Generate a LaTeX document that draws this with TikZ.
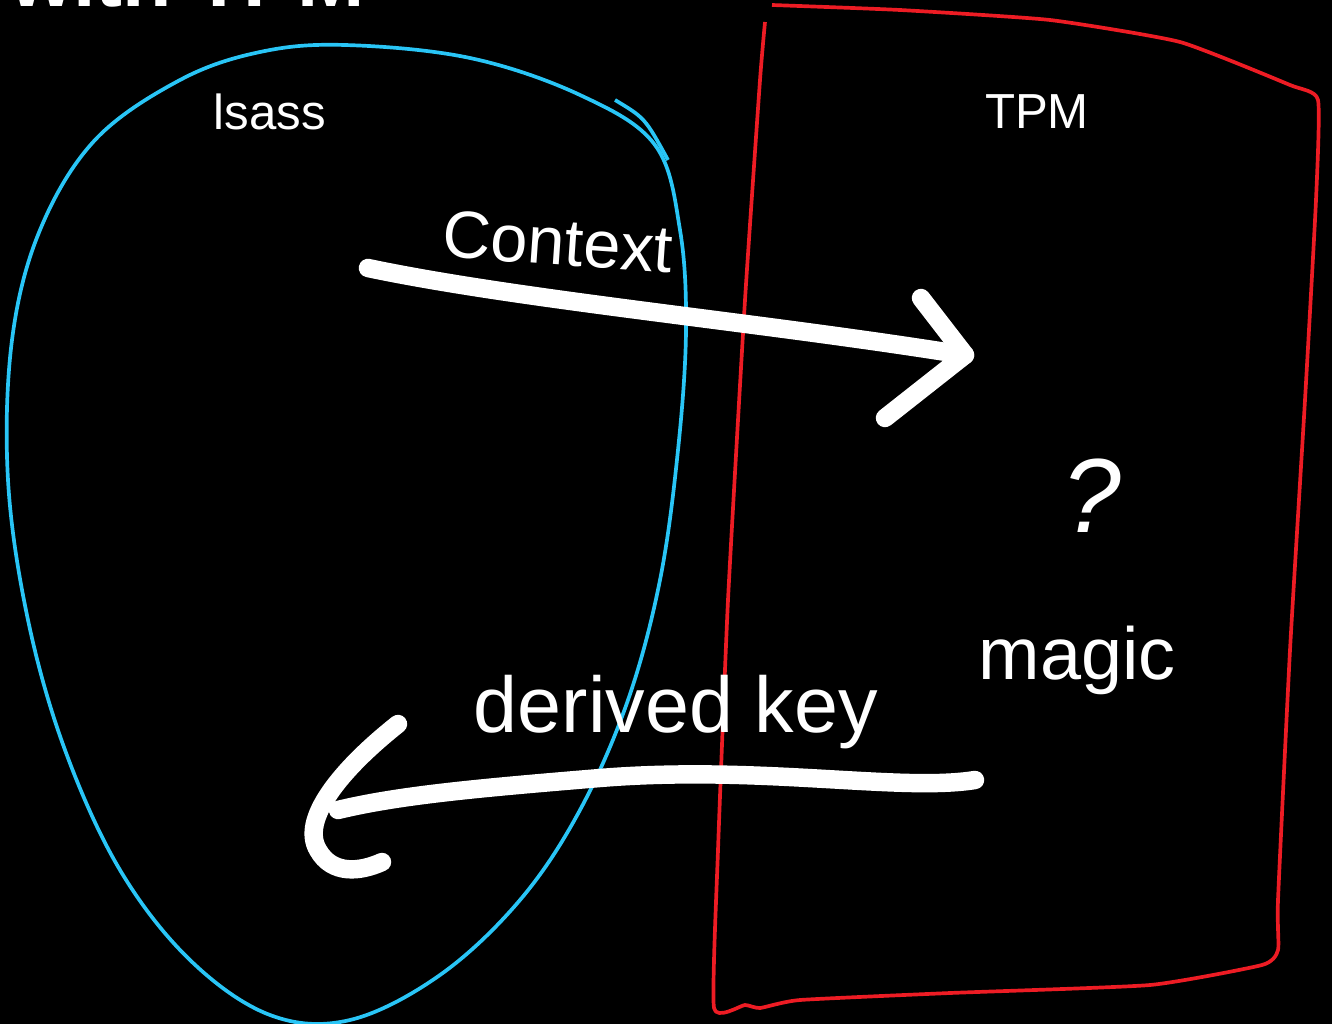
\documentclass[tikz,border=0pt]{standalone}
\usepackage{fontspec}
\setmainfont{Liberation Sans}
\usetikzlibrary{positioning}
\definecolor{lsassblue}{RGB}{41,197,246}
\definecolor{tpmred}{RGB}{237,28,36}

\begin{document}
\begin{tikzpicture}[
    x=0.02cm, y=-0.02cm,
    lsassline/.style={draw=lsassblue, line width=2.1pt, line join=round},
    tpmline/.style={draw=tpmred, line width=2.1pt, line join=round},
    bigarrow/.style={draw=white, line width=10.5pt, line cap=round, line join=round},
    label/.style={text=white, font=\fontsize{28}{32}\selectfont},
    hand/.style={text=white, inner sep=0pt}
]

% Background
\fill[black] (0,0) rectangle (1332,1024);
\useasboundingbox (0,0) rectangle (1332,1024);

% Title (cut off at the top)
\node[text=white, anchor=base west, inner sep=0pt, font=\fontsize{46}{50}\selectfont\bfseries] (title) at (10,7) {with TPM};

% lsass blob
\draw[lsassline] plot[smooth cycle, tension=0.6] coordinates {(345,45) (470,58) (580,95) (655,145) (680,230) (686,330) (678,450) (660,580) (628,700) (580,810) (520,900) (440,975) (350,1020) (270,1015) (190,960) (120,870) (65,750) (28,620) (8,480) (12,340) (40,230) (95,140) (180,80) (260,52)};
\draw[lsassline] (615,100) .. controls (645,118) .. (668,160);

% TPM box
\draw[tpmline] plot[smooth, tension=0.3] coordinates {(772,5) (900,10) (1050,20) (1180,42) (1290,85) (1318,100) (1316,200) (1305,400) (1290,650) (1278,900) (1278,950) (1262,965) (1150,985) (950,993) (800,1000) (760,1008) (745,1005) (714,1008) (718,850) (728,600) (745,300) (760,80) (765,22)};

% Labels
\node[label] (lsass) at (270,112) {lsass};
\node[label] (tpm) at (1037,112) {TPM};

% Context arrow
\coordinate (ctxstart) at (368,268);
\coordinate (ctxend) at (965,355);
\coordinate (ctxheadA) at (921,298);
\coordinate (ctxheadB) at (885,418);
\draw[bigarrow] (ctxstart) .. controls (520,300) and (760,322) .. (ctxend);
\draw[bigarrow] (ctxheadA) -- (ctxend) -- (ctxheadB);
\node[hand, font=\fontsize{38}{42}\selectfont, rotate=-4] (context) at (558,242) {Context};

% magic in the TPM
\node[hand, font=\fontsize{60}{64}\selectfont\itshape] (question) at (1092,496) {?};
\node[hand, font=\fontsize{42}{46}\selectfont] (magic) at (1077,660) {magic};

% derived key arrow
\coordinate (keystart) at (975,780);
\coordinate (keyend) at (338,810);
\coordinate (keyheadA) at (398,724);
\coordinate (keyheadB) at (382,862);
\draw[bigarrow] (keystart) .. controls (900,792) and (760,765) .. (600,778) .. controls (480,788) and (400,795) .. (keyend);
\draw[bigarrow] (keyheadA) .. controls (340,770) and (300,820) .. (318,850) .. controls (332,875) and (360,872) .. (keyheadB);
\node[hand, font=\fontsize{45}{49}\selectfont] (derived) at (676,712) {derived key};

\end{tikzpicture}
\end{document}
